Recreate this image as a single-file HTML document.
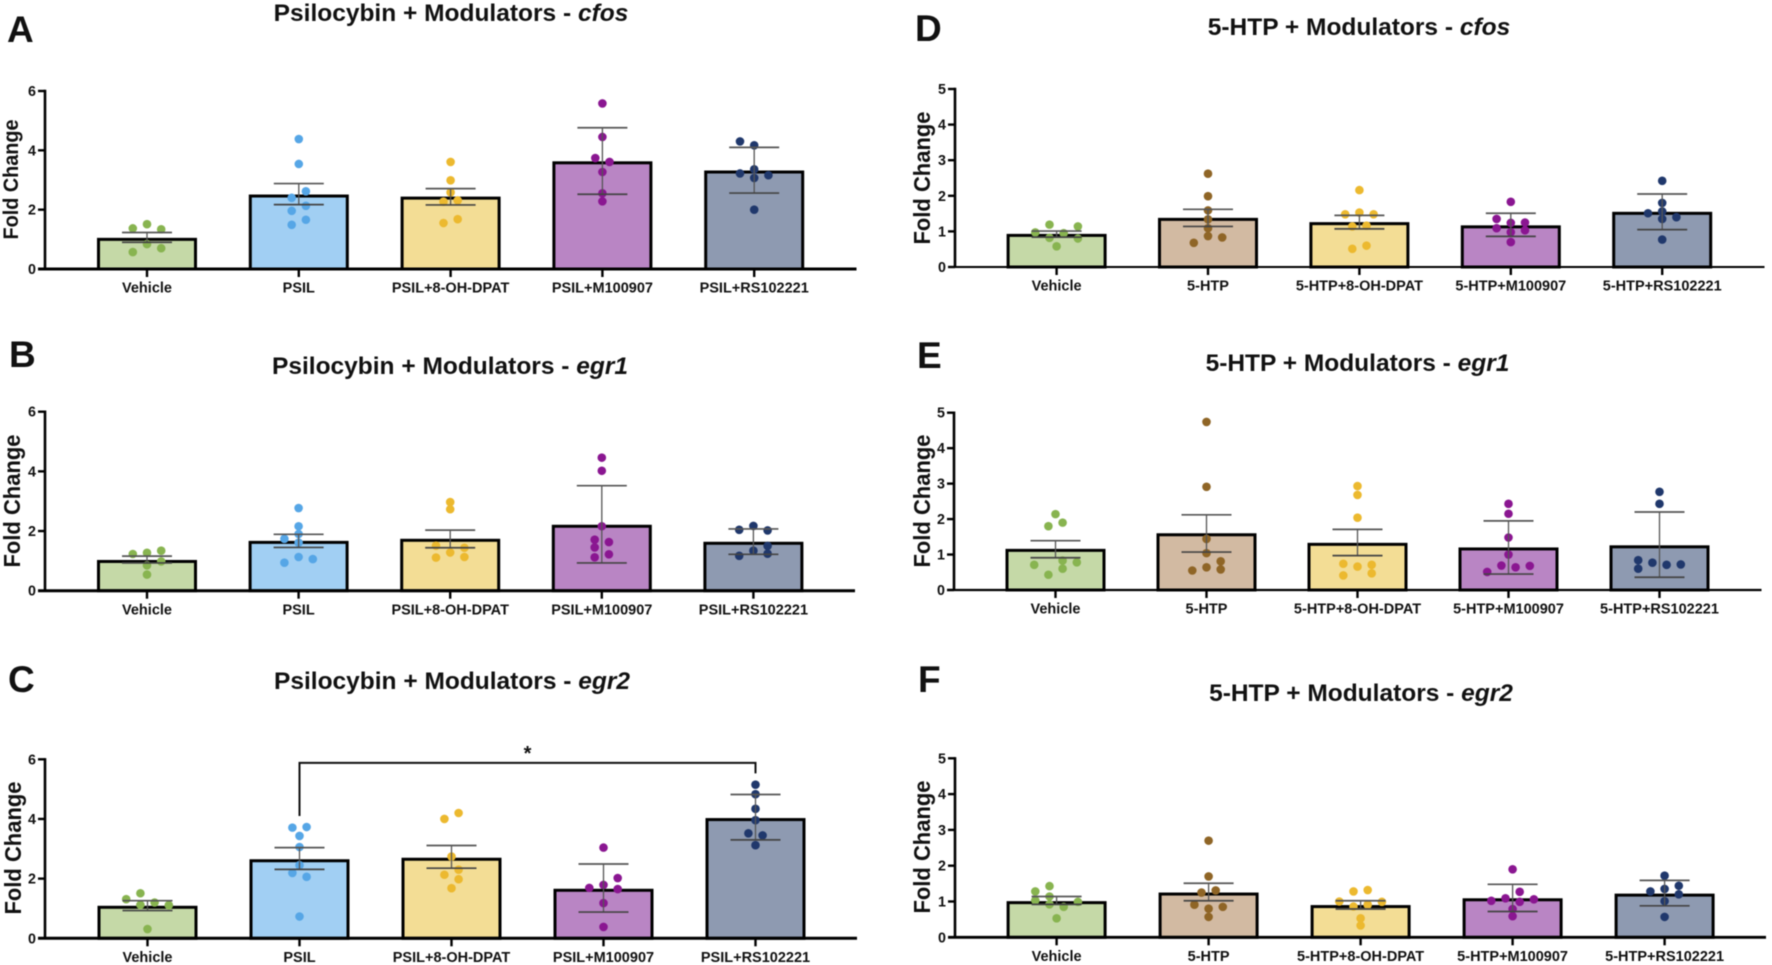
<!DOCTYPE html>
<html lang="en">
<head>
<meta charset="utf-8">
<title>Psilocybin and 5-HTP + Modulators fold change</title>
<style>
html,body{margin:0;padding:0;background:#fff;width:1772px;height:965px;overflow:hidden}
svg{display:block;filter:blur(.45px)}
text{font-family:"Liberation Sans",Arial,sans-serif;font-weight:700;fill:#111}
</style>
</head>
<body>
<svg id="figure" xmlns="http://www.w3.org/2000/svg" width="1772" height="965" viewBox="0 0 1772 965">
  <text x="7" y="42" font-size="37">A</text>
  <text x="9" y="367" font-size="37">B</text>
  <text x="8" y="692" font-size="37">C</text>
  <text x="915" y="41" font-size="37">D</text>
  <text x="917" y="368" font-size="37">E</text>
  <text x="918" y="692" font-size="37">F</text>

  <text x="451" y="21" font-size="24.5" text-anchor="middle">Psilocybin + Modulators - <tspan font-style="italic">cfos</tspan></text>
  <text x="450" y="374" font-size="24.5" text-anchor="middle">Psilocybin + Modulators - <tspan font-style="italic">egr1</tspan></text>
  <text x="452" y="689" font-size="24.5" text-anchor="middle">Psilocybin + Modulators - <tspan font-style="italic">egr2</tspan></text>
  <text x="1359" y="35" font-size="24.5" text-anchor="middle">5-HTP + Modulators - <tspan font-style="italic">cfos</tspan></text>
  <text x="1357.5" y="371" font-size="24.5" text-anchor="middle">5-HTP + Modulators - <tspan font-style="italic">egr1</tspan></text>
  <text x="1361" y="701" font-size="24.5" text-anchor="middle">5-HTP + Modulators - <tspan font-style="italic">egr2</tspan></text>

  <text font-size="21" text-anchor="middle" textLength="120" lengthAdjust="spacingAndGlyphs" transform="translate(18 179.5) rotate(-90)">Fold Change</text>
  <text font-size="23" text-anchor="middle" textLength="133" lengthAdjust="spacingAndGlyphs" transform="translate(20 501) rotate(-90)">Fold Change</text>
  <text font-size="23" text-anchor="middle" textLength="133" lengthAdjust="spacingAndGlyphs" transform="translate(21 848) rotate(-90)">Fold Change</text>
  <text font-size="23" text-anchor="middle" textLength="133" lengthAdjust="spacingAndGlyphs" transform="translate(930 178) rotate(-90)">Fold Change</text>
  <text font-size="23" text-anchor="middle" textLength="133" lengthAdjust="spacingAndGlyphs" transform="translate(930 501) rotate(-90)">Fold Change</text>
  <text font-size="23" text-anchor="middle" textLength="133" lengthAdjust="spacingAndGlyphs" transform="translate(930 847) rotate(-90)">Fold Change</text>
</svg>

<script>
// ---- Categories and tick labels ----
const psilCategories = ["Vehicle", "PSIL", "PSIL+8-OH-DPAT", "PSIL+M100907", "PSIL+RS102221"];
const htpCategories = ["Vehicle", "5-HTP", "5-HTP+8-OH-DPAT", "5-HTP+M100907", "5-HTP+RS102221"];
const psilTicks = [0, 2, 4, 6];
const htpTicks = [0, 1, 2, 3, 4, 5];

// ---- Panel A: Psilocybin cfos ----
const aMeans = [1.05, 2.51, 2.44, 3.63, 3.32];
const aUpper = [1.23, 2.88, 2.71, 4.76, 4.10];
const aLower = [0.90, 2.17, 2.16, 2.52, 2.56];
const aValues = [
  [1.51, 1.37, 1.34, 0.84, 0.70, 0.57],
  [4.38, 3.54, 2.62, 2.40, 2.13, 1.96, 1.66, 1.49],
  [3.61, 2.99, 2.58, 2.27, 2.31, 1.68, 1.55],
  [5.58, 4.45, 3.74, 3.61, 3.27, 2.55, 2.28],
  [4.30, 4.17, 3.36, 3.22, 3.16, 3.07, 2.00]
];
const aSwarm = [
  [0, -1, 1, 0, 1, -1],
  [0, 0, .5, -.5, .5, -.5, .5, -.5],
  [0, 0, 0, -.5, .5, .5, -.5],
  [0, 0, -.5, .5, 0, 0, 0],
  [-1, 0, 0, -1, 1, 0, 0]
];

// ---- Panel B: Psilocybin egr1 ----
const bMeans = [1.03, 1.67, 1.74, 2.21, 1.64];
const bUpper = [1.16, 1.89, 2.03, 3.52, 2.07];
const bLower = [0.93, 1.45, 1.44, 0.93, 1.22];
const bValues = [
  [1.23, 1.27, 1.34, 0.98, 0.85, 0.54],
  [2.77, 2.16, 1.90, 1.74, 1.61, 1.13, 1.06, 0.94],
  [2.97, 2.73, 1.51, 1.44, 1.28, 1.11, 1.13],
  [4.46, 4.02, 2.16, 1.71, 1.63, 1.45, 1.22, 1.12],
  [2.04, 2.17, 2.02, 1.50, 1.34, 1.24, 1.17]
];
const bSwarm = [
  [-1, 0, 1, 1, 0, 0],
  [0, 0, 0, -1, 0, 0, 1, -1],
  [0, 0, -1, 1, 0, -1, 1],
  [0, 0, 0, -.5, .5, -.5, .5, -.5],
  [-1, 0, 1, 1, 0, 1, -1]
];

// ---- Panel C: Psilocybin egr2 ----
const cMeans = [1.09, 2.65, 2.70, 1.66, 4.03];
const cUpper = [1.26, 3.04, 3.11, 2.49, 4.82];
const cLower = [0.93, 2.31, 2.35, 0.88, 3.30];
const cValues = [
  [1.51, 1.31, 1.20, 1.12, 1.11, 0.31],
  [3.71, 3.73, 3.43, 3.06, 2.45, 2.19, 2.06, 0.73],
  [4.00, 4.20, 2.74, 2.30, 2.13, 1.98, 1.68],
  [3.04, 2.02, 1.79, 1.69, 1.65, 1.18, 0.38],
  [5.15, 4.83, 4.34, 3.96, 3.52, 3.45, 3.12]
];
const cSwarm = [
  [-.5, -1.5, .5, -.5, 1.5, 0],
  [-.5, .5, 0, 0, 0, -.5, .5, 0],
  [-.5, .5, 0, .5, -.5, .5, 0],
  [0, 1, 0, -1, 1, 0, 0],
  [0, 0, 0, 0, -.5, .5, 0]
];
// Significance bracket in panel C: group indices and value levels
const cBracketGroups = [1, 4];
const cBracketLevels = [4.10, 5.88, 5.53];

// ---- Panel D: 5-HTP cfos ----
const dMeans = [0.93, 1.38, 1.26, 1.17, 1.55];
const dUpper = [1.01, 1.62, 1.45, 1.51, 2.05];
const dLower = [0.84, 1.14, 1.07, 0.86, 1.05];
const dValues = [
  [1.19, 1.14, 0.97, 0.95, 0.82, 0.80, 0.58],
  [2.62, 1.99, 1.59, 1.34, 1.09, 0.87, 0.83, 0.68],
  [2.16, 1.48, 1.53, 1.48, 1.14, 1.16, 0.60, 0.51],
  [1.83, 1.35, 1.25, 1.24, 1.09, 1.03, 0.98, 0.70],
  [2.42, 1.80, 1.51, 1.56, 1.40, 1.35, 0.77]
];
const dSwarm = [
  [-.5, 1.5, -1.5, .5, -.5, 1.5, 0],
  [0, 0, 0, 0, 0, 0, 1, -1],
  [0, -1, 0, 1, -.5, .5, .5, -.5],
  [0, -1, 1, 0, -1, 1, 0, 0],
  [0, 0, -1, 0, 1, 0, 0]
];

// ---- Panel E: 5-HTP egr1 ----
const eMeans = [1.16, 1.60, 1.33, 1.20, 1.26];
const eUpper = [1.39, 2.12, 1.71, 1.95, 2.20];
const eLower = [0.91, 1.07, 0.97, 0.45, 0.36];
const eValues = [
  [2.14, 1.90, 1.80, 0.83, 0.78, 0.71, 0.60, 0.43],
  [4.74, 2.91, 1.44, 1.04, 0.81, 0.64, 0.58, 0.55],
  [2.93, 2.68, 2.04, 0.74, 0.71, 0.66, 0.47, 0.41],
  [2.43, 2.15, 1.48, 1.00, 0.69, 0.68, 0.64, 0.51],
  [2.77, 2.43, 0.84, 0.77, 0.71, 0.72, 0.60]
];
const eSwarm = [
  [0, .5, -.5, .5, 1.5, -1.5, .5, -.5],
  [0, 0, 0, 0, 1, 0, 1, -1],
  [0, 0, 0, -1, 1, 0, 1, -1],
  [0, 0, 0, 0, -.5, 1.5, .5, -1.5],
  [0, 0, -1.5, -.5, .5, 1.5, -1.5]
];

// ---- Panel F: 5-HTP egr2 ----
const fMeans = [1.01, 1.25, 0.90, 1.09, 1.22];
const fUpper = [1.14, 1.51, 1.02, 1.48, 1.59];
const fLower = [0.92, 1.02, 0.79, 0.72, 0.88];
const fValues = [
  [1.43, 1.28, 1.14, 1.03, 0.99, 0.92, 0.85, 0.53],
  [2.70, 1.70, 1.31, 1.25, 0.91, 0.85, 0.80, 0.57],
  [1.32, 1.28, 1.00, 0.99, 0.91, 0.86, 0.53, 0.33],
  [1.90, 1.27, 1.02, 1.09, 1.06, 0.99, 0.79, 0.59],
  [1.72, 1.44, 1.28, 1.35, 1.20, 1.01, 0.57]
];
const fSwarm = [
  [-.5, -1.5, -.5, -1.5, 1.5, -.5, .5, 0],
  [0, 0, .5, -.5, -1, 1, 0, 0],
  [.5, -.5, -1.5, 1.5, .5, -.5, 0, 0],
  [0, .5, -1.5, -.5, 1.5, .5, 0, 0],
  [0, 1, -1, 0, 1, 0, 0]
];

// ---- Styles ----
const psilFills = ["#c5d9a7", "#a1cff3", "#f3dd95", "#b985c4", "#8e9ab1"];
const psilDots = ["#88b450", "#56a6e6", "#ecb92f", "#8a1691", "#20386c"];
const htpFills = ["#c5d9a7", "#d2baa2", "#f3dd95", "#b985c4", "#8e9ab1"];
const htpDots = ["#88b450", "#8f6526", "#ecb92f", "#8a1691", "#20386c"];

// ---- Panel layouts ----
const panels = [
  {id:"a", means:aMeans, upper:aUpper, lower:aLower, values:aValues, swarm:aSwarm, cats:psilCategories, ticks:psilTicks, fills:psilFills, dots:psilDots, axisX:45, right:856.5, first:147, step:151.8, y0:269, yTop:91, axisWeight:3},
  {id:"b", means:bMeans, upper:bUpper, lower:bLower, values:bValues, swarm:bSwarm, cats:psilCategories, ticks:psilTicks, fills:psilFills, dots:psilDots, axisX:45, right:855, first:147, step:151.6, y0:590.7, yTop:411.7, axisWeight:3},
  {id:"c", means:cMeans, upper:cUpper, lower:cLower, values:cValues, swarm:cSwarm, cats:psilCategories, ticks:psilTicks, fills:psilFills, dots:psilDots, axisX:45, right:857, first:147.5, step:152, y0:938.3, yTop:759.3, axisWeight:3},
  {id:"d", means:dMeans, upper:dUpper, lower:dLower, values:dValues, swarm:dSwarm, cats:htpCategories, ticks:htpTicks, fills:htpFills, dots:htpDots, axisX:955, right:1764.5, first:1056.6, step:151.4, y0:267, yTop:89, axisWeight:2},
  {id:"e", means:eMeans, upper:eUpper, lower:eLower, values:eValues, swarm:eSwarm, cats:htpCategories, ticks:htpTicks, fills:htpFills, dots:htpDots, axisX:954, right:1761.5, first:1055.5, step:151, y0:590, yTop:412.7, axisWeight:2.2},
  {id:"f", means:fMeans, upper:fUpper, lower:fLower, values:fValues, swarm:fSwarm, cats:htpCategories, ticks:htpTicks, fills:htpFills, dots:htpDots, axisX:955, right:1766, first:1056.6, step:152, y0:937.3, yTop:758.3, axisWeight:2.8}
];

const SVG_NS = "http://www.w3.org/2000/svg";
const figure = document.getElementById("figure");

function make(parent, tag, attrs) {
  const el = document.createElementNS(SVG_NS, tag);
  for (const key in attrs) el.setAttribute(key, attrs[key]);
  parent.appendChild(el);
  return el;
}

panels.forEach(function (p) {
  const maxTick = p.ticks[p.ticks.length - 1];
  const yScale = function (v) { return p.y0 - (v / maxTick) * (p.y0 - p.yTop); };
  const xScale = function (i) { return p.first + i * p.step; };
  const swarmUnit = 14.2;
  const barOuter = 100;
  const barStroke = 3;
  const capHalf = 25;

  const panel = make(figure, "g", {});
  
  

  p.cats.forEach(function (cat, i) {
    const group = make(panel, "g", {});
    
    

    const top = yScale(p.means[i]);
    const bar = make(group, "rect", {
      x: xScale(i) - barOuter / 2 + barStroke / 2,
      y: top + barStroke / 2,
      width: barOuter - barStroke,
      height: Math.max(0, p.y0 - top - barStroke / 2),
      fill: p.fills[i],
      stroke: "#000",
      "stroke-width": barStroke
    });
    
    

    p.values[i].forEach(function (v, j) {
      const dot = make(group, "circle", {
        cx: xScale(i) + p.swarm[i][j] * swarmUnit,
        cy: yScale(v),
        r: 4.3,
        fill: p.dots[i]
      });
      
      
    });

    const stem = make(group, "line", {
      x1: xScale(i), x2: xScale(i),
      y1: yScale(p.upper[i]), y2: yScale(p.lower[i]),
      stroke: "#555", "stroke-width": 1.3
    });
    
    

    const capUp = make(group, "line", {
      x1: xScale(i) - capHalf, x2: xScale(i) + capHalf,
      y1: yScale(p.upper[i]), y2: yScale(p.upper[i]),
      stroke: "#555", "stroke-width": 1.7
    });
    
    

    const capLow = make(group, "line", {
      x1: xScale(i) - capHalf, x2: xScale(i) + capHalf,
      y1: yScale(p.lower[i]), y2: yScale(p.lower[i]),
      stroke: "#444", "stroke-width": 1.7
    });
    
    

    const xTick = make(group, "line", {
      x1: xScale(i), x2: xScale(i),
      y1: p.y0, y2: p.y0 + 8,
      stroke: "#000", "stroke-width": 2.4
    });
    
    

    const xLabel = make(group, "text", {
      x: xScale(i), y: p.y0 + 23.7,
      "font-size": 14.5, "text-anchor": "middle"
    });
    
    
    xLabel.textContent = cat;
  });

  const yAxis = make(panel, "line", {
    x1: p.axisX, x2: p.axisX,
    y1: p.yTop - 1.2, y2: p.y0,
    stroke: "#000", "stroke-width": 2.6
  });
  
  

  const xAxis = make(panel, "line", {
    x1: p.axisX - 7, x2: p.right,
    y1: p.y0, y2: p.y0,
    stroke: "#000", "stroke-width": p.axisWeight
  });
  
  

  p.ticks.forEach(function (t) {
    const tick = make(panel, "line", {
      x1: p.axisX - 7, x2: p.axisX,
      y1: yScale(t), y2: yScale(t),
      stroke: "#000", "stroke-width": 2.4
    });
    
    

    const label = make(panel, "text", {
      x: p.axisX - 9, y: yScale(t) + 5,
      "font-size": 14.3, "text-anchor": "end"
    });
    
    
    label.textContent = t;
  });

  if (p.id === "c") {
    const bx1 = xScale(cBracketGroups[0]);
    const bx2 = xScale(cBracketGroups[1]);
    const bracket = make(panel, "polyline", {
      points: bx1 + "," + yScale(cBracketLevels[0]) + " " +
              bx1 + "," + yScale(cBracketLevels[1]) + " " +
              bx2 + "," + yScale(cBracketLevels[1]) + " " +
              bx2 + "," + yScale(cBracketLevels[2]),
      fill: "none", stroke: "#111", "stroke-width": 2
    });
    
    

    const star = make(panel, "text", {
      x: (bx1 + bx2) / 2, y: yScale(cBracketLevels[1]) - 3,
      "font-size": 20, "text-anchor": "middle"
    });
    
    
    star.textContent = "*";
  }
});
</script>
</body>
</html>
